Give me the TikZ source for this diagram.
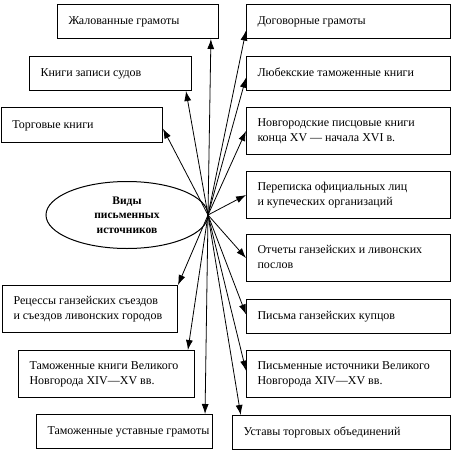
\documentclass[tikz,border=0pt]{standalone}
\usepackage{fontspec}
\setmainfont{Liberation Serif}
\usetikzlibrary{arrows.meta,shapes.geometric,calc}
\tikzset{%
	>={Latex[length=10pt,width=7pt]},
	srcbox/.style={draw,line width=1pt,anchor=north west,
		inner xsep=11pt,inner ysep=0pt,font=\fontsize{12}{15}\selectfont},
	hubline/.style={->,line width=0.8pt},
	kinds/.style={draw,ellipse,line width=1pt,inner sep=0pt,
		minimum width=162pt,minimum height=67pt,align=center,
		font=\bfseries\fontsize{11.5}{14.5}\selectfont}
}
% box: name, left, top, width, height, text
\newcommand\SourceBox[6]{%
	\pgfmathsetmacro\tw{#4-23}%
	\node[srcbox,minimum height=#5pt] (#1) at (#2,#3)
		{\makebox[\tw pt][l]{\begin{tabular}{@{}l@{}}#6\end{tabular}}};
}
\begin{document}
\begin{tikzpicture}[x=1pt,y=-1pt]
	\useasboundingbox (0,0) rectangle (453,450);
	
	%% central ellipse
	\node[kinds] (kinds) at (127,215) {Виды\\письменных\\источников};
	\coordinate (hub) at (208,215);
	
	%% left column
	\SourceBox{zhal}{57}{4}{162}{34}{Жалованные грамоты}
	\SourceBox{sud}{29}{56}{163}{34}{Книги записи судов}
	\SourceBox{torg}{1}{107}{162}{35}{Торговые книги}
	\SourceBox{rec}{2}{285}{176}{47}{Рецессы ганзейских съездов\\и съездов ливонских городов}
	\SourceBox{tamkn}{18}{350}{177}{47}{Таможенные книги Великого\\Новгорода XIV—XV вв.}
	\SourceBox{tamust}{36}{414}{177}{34}{Таможенные уставные грамоты}
	
	%% right column
	\SourceBox{dog}{246}{4}{205}{34}{Договорные грамоты}
	\SourceBox{lub}{246}{56}{205}{34}{Любекские таможенные книги}
	\SourceBox{pisc}{246}{107}{205}{47}{Новгородские писцовые книги\\конца XV — начала XVI в.}
	\SourceBox{perep}{246}{171}{205}{47}{Переписка официальных лиц\\и купеческих организаций}
	\SourceBox{otch}{246}{234}{205}{47}{Отчеты ганзейских и ливонских\\послов}
	\SourceBox{pism}{246}{299}{205}{34}{Письма ганзейских купцов}
	\SourceBox{ist}{246}{350}{205}{47}{Письменные источники Великого\\Новгорода XIV—XV вв.}
	\SourceBox{ust}{232}{415}{219}{34}{Уставы торговых объединений}
	
	%% arrows from the hub
	\draw[hubline] (hub) -- ($(zhal.south west)!0.95!(zhal.south east)$);
	\draw[hubline] (hub) -- ($(sud.south west)!0.963!(sud.south east)$);
	\draw[hubline] (hub) -- ($(torg.north east)!0.6!(torg.south east)$);
	\draw[hubline] (hub) -- (rec.north east);
	\draw[hubline] (hub) -- ($(tamkn.north west)!0.96!(tamkn.north east)$);
	\draw[hubline] (hub) -- ($(tamust.north west)!0.955!(tamust.north east)$);
	\draw[hubline] (hub) -- ($(dog.north west)!0.76!(dog.south west)$);
	\draw[hubline] (hub) -- ($(lub.north west)!0.62!(lub.south west)$);
	\foreach \b in {pisc,perep,otch}
		\draw[hubline] (hub) -- (\b.west);
	\draw[hubline] (hub) -- ($(pism.north west)!0.44!(pism.south west)$);
	\draw[hubline] (hub) -- ($(ist.north west)!0.43!(ist.south west)$);
	\draw[hubline] (hub) -- ($(ust.north west)!0.04!(ust.north east)$);
\end{tikzpicture}
\end{document}
